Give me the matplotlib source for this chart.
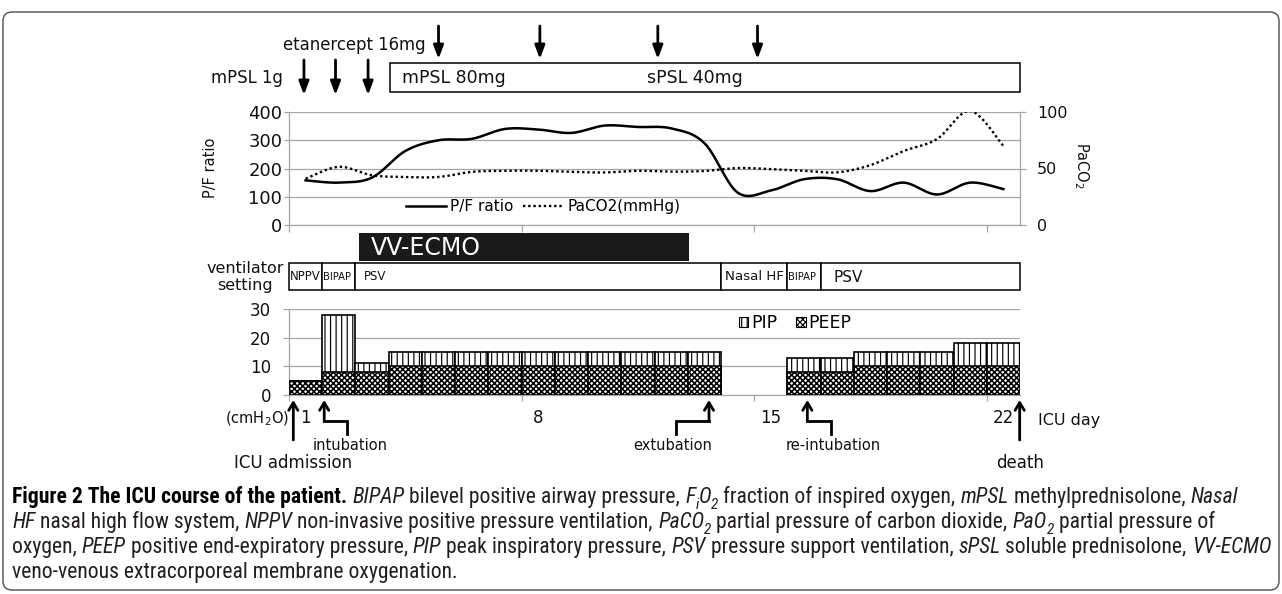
import numpy as np
import matplotlib
matplotlib.use("Agg")
import matplotlib.pyplot as plt
from matplotlib import font_manager
from matplotlib.font_manager import FontProperties
from matplotlib.lines import Line2D
from matplotlib.patches import Rectangle, Patch, FancyBboxPatch

W, H, DPI = 1282, 594, 100

# ---- data (one value per ICU day) ----
DAYS = np.arange(1, 23)
PF_RATIO = [158, 150, 168, 262, 300, 305, 340, 338, 326, 352, 347, 342, 290,
            115, 122, 162, 162, 120, 150, 108, 150, 127]
PACO2 = [41, 51.5, 44, 42.5, 42.5, 47, 48, 48, 47, 46.5, 48, 47.2, 47.8,
         50.4, 49.5, 48, 46.6, 53, 65.5, 76, 101, 70]
nan = np.nan
PIP = [5, 28, 11, 15, 15, 15, 15, 15, 15, 15, 15, 15, 15, nan, nan,
       13, 13, 15, 15, 15, 18, 18]
PEEP = [5, 8, 8, 10, 10, 10, 10, 10, 10, 10, 10, 10, 10, nan, nan,
        8, 8, 10, 10, 10, 10, 10]

DAY_LABELS = ['1', '8', '15', '22']
DAY_LABEL_POS = [1, 8, 15, 22]
WEEK_TICKS = [0.5, 7.5, 14.5, 21.5]
PF_TICKS = [0, 100, 200, 300, 400]
CO2_TICKS = [0, 50, 100]
CMH2O_TICKS = [0, 10, 20, 30]

VENT_MODES = ['NPPV', 'BIPAP', 'PSV', 'Nasal HF', 'BIPAP', 'PSV']
VENT_START = [1, 2, 3, 14, 16, 17]
VENT_END = [1, 2, 13, 15, 16, 22]

ECMO_SPAN = (2.6, 12.55)
MPSL_1G_DAYS = [0.95, 1.9, 2.88]
ETANERCEPT_DAYS = [5.0, 8.05, 11.6, 14.6]
STEROID_SPAN = (3.54, 22.5)
STEROID_LABELS = ['mPSL 80mg', 'sPSL 40mg']
STEROID_LABEL_DAYS = [3.91, 11.26]

EVENTS = ['ICU admission', 'intubation', 'extubation', 're-intubation', 'death']
EVENT_DAYS = [0.63, 1.56, 13.14, 16.1, 22.49]

# ---- styles ----
GRID = '#a6a6a6'
INK = '#111111'
CAP_COLOR = '#231f20'
VENT_SIZES = [8.5, 7.2, 8.5, 9.6, 7.2, 11]
VENT_PADS = [0.5, 0.5, 6, 3, 0.5, 9]
EVENT_BEND = [0, 0.7, -1.0, 0.7, 0]
PEEP_HATCH = 'xxxxxx'

plt.rcParams['font.family'] = 'DejaVu Sans'
plt.rcParams['hatch.linewidth'] = 0.85

names = {f.name for f in font_manager.fontManager.ttflist}
CAP_FONT = next((n for n in ['Liberation Sans Narrow', 'Roboto Condensed']
                 if n in names), 'Liberation Sans')

fig = plt.figure(figsize=(W / DPI, H / DPI), dpi=DPI, facecolor='white')


def px_axes(x0, y0, x1, y1):
    return fig.add_axes([x0 / W, 1 - y1 / H, (x1 - x0) / W, (y1 - y0) / H])


def catmull_rom(x, y, steps=24):
    """Excel-like smoothed line through the daily points"""
    x = np.asarray(x, float)
    y = np.asarray(y, float)
    px = np.r_[x[0], x, x[-1]]
    py = np.r_[y[0], y, y[-1]]
    t = np.linspace(0, 1, steps, endpoint=False)
    xs, ys = [], []
    for i in range(len(x) - 1):
        for p, out in ((px, xs), (py, ys)):
            p0, p1, p2, p3 = p[i:i + 4]
            out.append(0.5 * (2 * p1 + (-p0 + p2) * t
                              + (2 * p0 - 5 * p1 + 4 * p2 - p3) * t ** 2
                              + (-p0 + 3 * p1 - 3 * p2 + p3) * t ** 3))
    xs.append([x[-1]])
    ys.append([y[-1]])
    return np.concatenate(xs), np.concatenate(ys)


# frame + caption layer in pixel units
ax_fr = fig.add_axes([0, 0, 1, 1])
ax_fr.set_xlim(0, W)
ax_fr.set_ylim(H, 0)
ax_fr.axis('off')
ax_fr.add_patch(FancyBboxPatch((3, 12), W - 6, 578,
                               boxstyle='round,pad=0,rounding_size=9',
                               fc='none', ec='#4d4d4d', lw=1.0))

# ---------- P/F ratio & PaCO2 ----------
ax_pf = px_axes(289, 112, 1020, 225)
ax_pf.set_xlim(0.5, 22.5)
ax_pf.set_ylim(0, 400)
ax_pf.set_yticks(PF_TICKS)
ax_pf.set_xticks(WEEK_TICKS)
ax_pf.set_xticklabels([])
ax_pf.grid(axis='y', color=GRID, lw=0.9)
ax_pf.set_axisbelow(True)
for s in ['top', 'right']:
    ax_pf.spines[s].set_visible(False)
for s in ['left', 'bottom']:
    ax_pf.spines[s].set_color(GRID)
    ax_pf.spines[s].set_linewidth(0.9)
ax_pf.tick_params(axis='y', length=3.6, width=0.9, color=GRID, pad=1.2,
                  labelsize=13, labelcolor=INK)
ax_pf.tick_params(axis='x', length=5, width=0.9, color=GRID)
sx, sy = catmull_rom(DAYS, PF_RATIO)
ax_pf.plot(sx, sy, color='black', lw=1.8)

ax_co2 = ax_pf.twinx()
ax_co2.set_ylim(0, 100)
ax_co2.set_yticks(CO2_TICKS)
for s in ['top', 'left', 'bottom']:
    ax_co2.spines[s].set_visible(False)
ax_co2.spines['right'].set_color(GRID)
ax_co2.spines['right'].set_linewidth(0.9)
ax_co2.tick_params(axis='y', length=4.3, width=0.9, color=GRID, pad=8,
                   labelsize=11.5, labelcolor=INK)
cx, cy = catmull_rom(DAYS, PACO2)
ax_co2.plot(cx, cy, color='black', lw=1.7, linestyle=(0, (1, 1.2)))

ax_pf.legend(handles=[Line2D([], [], color='black', lw=1.8),
                      Line2D([], [], color='black', lw=1.7, linestyle=(0, (1, 1.2)))],
             labels=['P/F ratio', 'PaCO2(mmHg)'], loc='center',
             bbox_to_anchor=(543 / W, 1 - 207 / H), bbox_transform=fig.transFigure,
             ncol=2, frameon=False, fontsize=11, handlelength=2.6,
             handletextpad=0.3, columnspacing=0.6)

fig.text(210 / W, 1 - 168 / H, 'P/F ratio', rotation=90, ha='center', va='center',
         fontsize=10.5, color=INK)
fig.text(1081 / W, 1 - 166 / H, r'PaCO$_2$', rotation=-90, ha='center', va='center',
         fontsize=10.5, color=INK)

# ---------- PIP / PEEP bars ----------
ax_bar = px_axes(289, 309, 1020, 395)
ax_bar.set_xlim(0.5, 22.5)
ax_bar.set_ylim(0, 30)
ax_bar.set_yticks(CMH2O_TICKS)
ax_bar.grid(axis='y', color=GRID, lw=0.9)
ax_bar.set_axisbelow(True)
for s in ['top', 'right']:
    ax_bar.spines[s].set_visible(False)
for s in ['left', 'bottom']:
    ax_bar.spines[s].set_color(GRID)
    ax_bar.spines[s].set_linewidth(0.9)
ax_bar.bar(DAYS, PIP, width=1.0, color='white', edgecolor='black', lw=1.2,
           hatch='|||', label='PIP', zorder=2)
with plt.rc_context({'hatch.linewidth': 1.15}):
    ax_bar.bar(DAYS, PEEP, width=1.0, color='white', edgecolor='black', lw=1.2,
               hatch=PEEP_HATCH, label='PEEP', zorder=3)
    peep_handle = Patch(fc='white', ec='black', hatch=PEEP_HATCH, lw=0.8)
ax_bar.set_xticks(WEEK_TICKS)
ax_bar.set_xticklabels([])
ax_bar.set_xticks(DAY_LABEL_POS, labels=DAY_LABELS, minor=True)
ax_bar.tick_params(axis='x', which='major', length=4.5, width=0.9, color=GRID)
ax_bar.tick_params(axis='x', which='minor', length=0, pad=10, labelsize=12,
                   labelcolor=INK)
ax_bar.tick_params(axis='y', length=4.3, width=0.9, color=GRID, pad=8.5,
                   labelsize=12, labelcolor=INK)
ax_bar.legend(handles=[Patch(fc='white', ec='black', hatch='|||', lw=0.8),
                       peep_handle],
              labels=['PIP', 'PEEP'], loc='center',
              bbox_to_anchor=(795 / W, 1 - 323 / H), bbox_transform=fig.transFigure,
              ncol=2, frameon=False, fontsize=12.5, handlelength=0.55,
              handleheight=0.55, handletextpad=0.15, columnspacing=1.1)

# ---------- overlay: drugs, ECMO, ventilator modes, events ----------
ax_ov = px_axes(289, 0, 1020, H)
ax_ov.set_xlim(0.5, 22.5)
ax_ov.set_ylim(H, 0)
ax_ov.axis('off')

head = dict(arrowstyle='-|>,head_length=0.8,head_width=0.3', color='black',
            lw=2, shrinkA=0, shrinkB=0)
for d in ETANERCEPT_DAYS:
    ax_ov.annotate('', xy=(d, 59), xytext=(d, 26), arrowprops=head,
                   annotation_clip=False)
for d in MPSL_1G_DAYS:
    ax_ov.annotate('', xy=(d, 95), xytext=(d, 60), arrowprops=head,
                   annotation_clip=False)
fig.text(426 / W, 1 - 45 / H, 'etanercept 16mg', ha='right', va='center',
         fontsize=11.9, color=INK)
fig.text(283 / W, 1 - 78 / H, 'mPSL 1g', ha='right', va='center',
         fontsize=11.9, color=INK)
ax_ov.add_patch(Rectangle((STEROID_SPAN[0], 63), STEROID_SPAN[1] - STEROID_SPAN[0],
                          29, fc='white', ec='black', lw=1.1, clip_on=False))
for lab, d in zip(STEROID_LABELS, STEROID_LABEL_DAYS):
    ax_ov.text(d, 78, lab, ha='left', va='center', fontsize=12.5, color=INK)

# VV-ECMO
ax_ov.add_patch(Rectangle((ECMO_SPAN[0], 233), ECMO_SPAN[1] - ECMO_SPAN[0], 28,
                          fc='#1a1a1a', ec='none', clip_on=False))
ax_ov.annotate('VV-ECMO', xy=(ECMO_SPAN[0], 248), xytext=(8.5, 0),
               textcoords='offset points', ha='left', va='center',
               fontsize=17, color='white')

# ventilator setting row
for mode, a, b, fs, pad in zip(VENT_MODES, VENT_START, VENT_END, VENT_SIZES, VENT_PADS):
    ax_ov.add_patch(Rectangle((a - 0.5, 263), b - a + 1, 27, fc='white',
                              ec='black', lw=1.1, clip_on=False))
    ax_ov.annotate(mode, xy=(a - 0.5, 277), xytext=(pad, 0),
                   textcoords='offset points', ha='left', va='center',
                   fontsize=fs, color=INK)
fig.text(245 / W, 1 - 277 / H, 'ventilator\nsetting', ha='center', va='center',
         fontsize=11.5, linespacing=1.15, color=INK)

# event arrows under the day axis
up = dict(arrowstyle='->,head_length=0.55,head_width=0.33', color='black',
          lw=2, shrinkA=0, shrinkB=0)
for ev, d, bend in zip(EVENTS, EVENT_DAYS, EVENT_BEND):
    if bend == 0:
        ax_ov.annotate('', xy=(d, 400), xytext=(d, 440), arrowprops=up,
                       annotation_clip=False)
        ax_ov.text(d, 463, ev, ha='center', va='center', fontsize=12, color=INK,
                   clip_on=False)
    else:
        ax_ov.annotate('', xy=(d, 400), xytext=(d, 421), arrowprops=up,
                       annotation_clip=False)
        ax_ov.plot([d, d + bend, d + bend], [421, 421, 434], color='black',
                   lw=2, solid_joinstyle='miter', clip_on=False)
        ax_ov.text(d + bend * 1.1, 445, ev, ha='center', va='center',
                   fontsize=10.5, color=INK, clip_on=False)

fig.text(289 / W, 1 - 419 / H, r'(cmH$_2$O)', ha='right', va='center',
         fontsize=10.5, color=INK)
fig.text(1038 / W, 1 - 420 / H, 'ICU day', ha='left', va='center',
         fontsize=11.5, color=INK)

# ---------- caption ----------
CAPTION_LINES = [
    [('Figure 2 The ICU course of the patient.', 'b'), (' ', 'n'), ('BIPAP', 'i'),
     (' bilevel positive airway pressure, ', 'n'), ('F', 'i'), ('i', 'i_'),
     ('O', 'i'), ('2', 'i_'), (' fraction of inspired oxygen, ', 'n'),
     ('mPSL', 'i'), (' methylprednisolone, ', 'n'), ('Nasal', 'i')],
    [('HF', 'i'), (' nasal high flow system, ', 'n'), ('NPPV', 'i'),
     (' non-invasive positive pressure ventilation, ', 'n'), ('PaCO', 'i'),
     ('2', 'i_'), (' partial pressure of carbon dioxide, ', 'n'), ('PaO', 'i'),
     ('2', 'i_'), (' partial pressure of', 'n')],
    [('oxygen, ', 'n'), ('PEEP', 'i'), (' positive end-expiratory pressure, ', 'n'),
     ('PIP', 'i'), (' peak inspiratory pressure, ', 'n'), ('PSV', 'i'),
     (' pressure support ventilation, ', 'n'), ('sPSL', 'i'),
     (' soluble prednisolone, ', 'n'), ('VV-ECMO', 'i')],
    [('veno-venous extracorporeal membrane oxygenation.', 'n')],
]
CAPTION_BASELINES = [503, 528, 553, 578]

renderer = fig.canvas.get_renderer()


def seg_prop(kind, size):
    sub = kind.endswith('_')
    k = kind.rstrip('_')
    return FontProperties(family=CAP_FONT, size=size * (0.7 if sub else 1),
                          weight='bold' if k == 'b' else 'normal',
                          style='italic' if k == 'i' else 'normal'), sub


def seg_width(s, prop):
    a = renderer.get_text_width_height_descent('|' + s + '|', prop, ismath=False)[0]
    b = renderer.get_text_width_height_descent('||', prop, ismath=False)[0]
    return a - b


def line_width(segs, size):
    return sum(seg_width(t, seg_prop(k, size)[0]) for t, k in segs)


widest = max(line_width(segs, 10) for segs in CAPTION_LINES)
cap_size = 10 * 1256 / widest
for segs, base in zip(CAPTION_LINES, CAPTION_BASELINES):
    x = 12
    for t, k in segs:
        prop, sub = seg_prop(k, cap_size)
        ax_fr.text(x, base + (0.3 * cap_size * DPI / 72 if sub else 0), t,
                   fontproperties=prop, ha='left', va='baseline',
                   color='black' if k == 'b' else CAP_COLOR)
        x += seg_width(t, prop)

fig.savefig('out.png', dpi=DPI, facecolor='white')
